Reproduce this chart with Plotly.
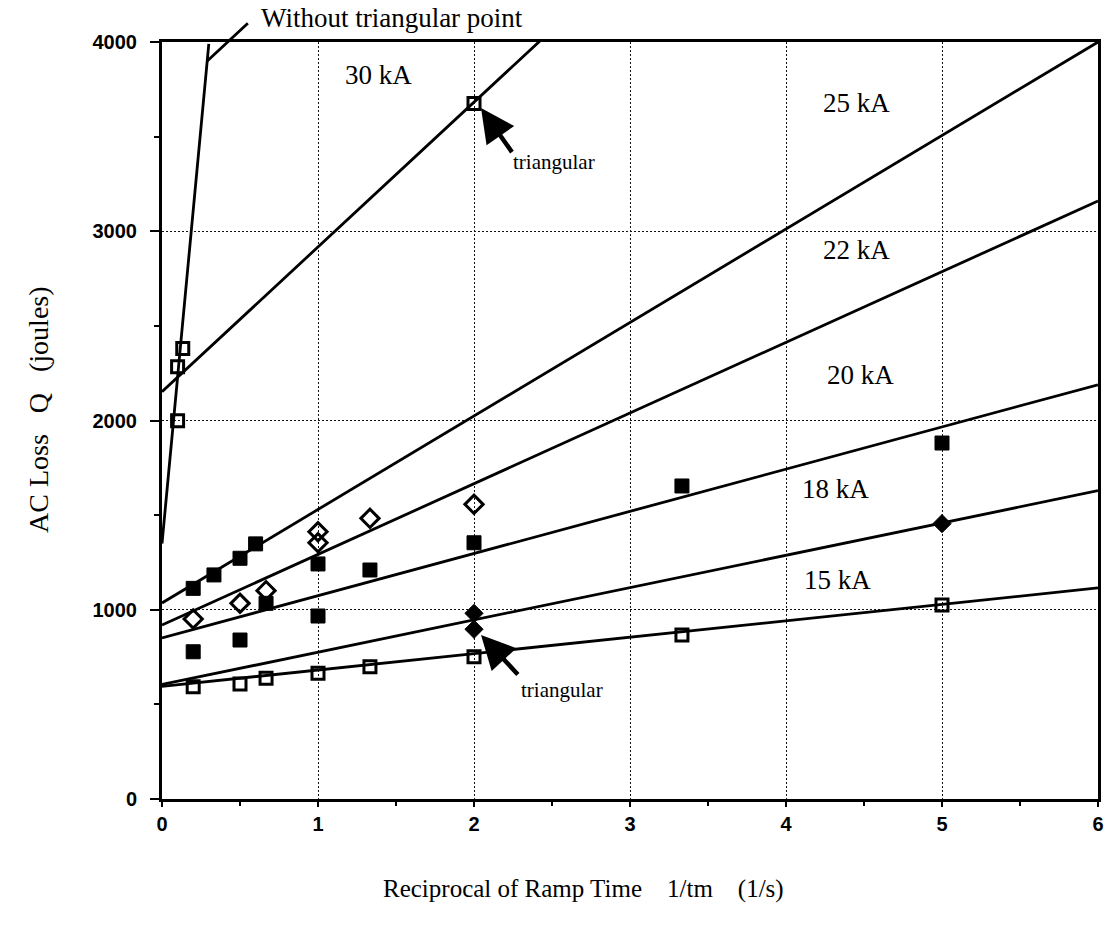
import numpy as np
import plotly.graph_objects as go

# Measured AC loss Q (joules) vs reciprocal ramp time 1/tm (1/s)
x_15kA = [0.2, 0.5, 0.667, 1.0, 1.333, 2.0, 3.333, 5.0]
q_15kA = [593, 608, 638, 664, 699, 752, 867, 1025]

x_18kA = [2.0, 2.0, 5.0]
q_18kA = [981, 897, 1455]

x_20kA = [0.2, 0.5, 0.667, 1.0, 1.0, 1.333, 2.0, 3.333, 5.0]
q_20kA = [778, 840, 1034, 1242, 967, 1210, 1354, 1654, 1881]

x_22kA = [0.2, 0.5, 0.667, 1.0, 1.0, 1.333, 2.0]
q_22kA = [951, 1034, 1101, 1412, 1354, 1483, 1557]

x_25kA = [0.2, 0.333, 0.5, 0.6]
q_25kA = [1113, 1184, 1272, 1348]

x_30kA = [0.1, 0.1, 0.133, 2.0]
q_30kA = [1999, 2284, 2381, 3675]

# Linear fits Q = a + b * (1/tm)
fit_labels = ["15 kA", "18 kA", "20 kA", "22 kA", "25 kA", "30 kA"]
fit_intercepts = [595, 605, 851, 919, 1036, 2152]
fit_slopes = [86.7, 170.7, 223, 373.5, 494, 765]

# 30 kA fit excluding the triangular-waveform point
fit30_notri_intercept = 1350
fit30_notri_slope = 8800

# Label anchor positions for each fit line (data units)
label_x = [4.33, 4.32, 4.48, 4.45, 4.45, 1.39]
label_y = [1155, 1640, 2240, 2900, 3680, 3826]

x_fit = np.linspace(0, 6, 121)
serif = "Liberation Serif, Times New Roman, serif"
sans = "Liberation Sans, Arial, sans-serif"

fig = go.Figure()

# fitted lines
for a, b in zip(fit_intercepts, fit_slopes):
    fig.add_trace(go.Scatter(x=x_fit, y=a + b * x_fit, mode="lines",
                             line=dict(color="black", width=2.8),
                             showlegend=False, hoverinfo="skip"))
x_steep = np.linspace(0, 0.3, 31)
fig.add_trace(go.Scatter(x=x_steep, y=fit30_notri_intercept + fit30_notri_slope * x_steep,
                         mode="lines", line=dict(color="black", width=2.8),
                         showlegend=False, hoverinfo="skip"))

open_sq = dict(symbol="square-open", size=12, color="black", line=dict(width=3, color="black"))
fill_sq = dict(symbol="square", size=14, color="black", line=dict(width=1, color="black"))
open_di = dict(symbol="diamond-open", size=14, color="black", line=dict(width=3, color="black"))
fill_di = dict(symbol="diamond", size=14, color="black", line=dict(width=1, color="black"))

for xs, ys, mk in [(x_15kA, q_15kA, open_sq), (x_18kA, q_18kA, fill_di),
                   (x_20kA, q_20kA, fill_sq), (x_22kA, q_22kA, open_di),
                   (x_25kA, q_25kA, fill_sq), (x_30kA, q_30kA, open_sq)]:
    fig.add_trace(go.Scatter(x=xs, y=ys, mode="markers", marker=mk,
                             showlegend=False, cliponaxis=False))

annotations = []
for t, lx, ly in zip(fit_labels, label_x, label_y):
    annotations.append(dict(x=lx, y=ly, text=t, showarrow=False,
                            font=dict(family=serif, size=27, color="black")))

# arrows marking the triangular-waveform points
for hx, hy, tx, ty in [(2.045, 3651, 2.25, 3410), (2.045, 867, 2.29, 650)]:
    annotations.append(dict(x=hx, y=hy, ax=tx, ay=ty, xref="x", yref="y",
                            axref="x", ayref="y", text="", showarrow=True,
                            arrowhead=2, arrowsize=1.5, arrowwidth=4.5,
                            arrowcolor="black"))
annotations.append(dict(x=2.24, y=3366, text="triangular", showarrow=False,
                        xanchor="left", font=dict(family=serif, size=21, color="black")))
annotations.append(dict(x=2.29, y=576, text="triangular", showarrow=False,
                        xanchor="left", font=dict(family=serif, size=21, color="black")))

# leader line to the "without triangular point" note
annotations.append(dict(x=0.29, y=3900, ax=0.56, ay=4106, xref="x", yref="y",
                        axref="x", ayref="y", text="", showarrow=True,
                        arrowhead=0, arrowwidth=2.8, arrowcolor="black"))
annotations.append(dict(x=0.62, y=1.032, xref="x", yref="paper",
                        text="Without triangular point", showarrow=False,
                        xanchor="left", yanchor="middle",
                        font=dict(family=serif, size=27, color="black")))

# axis titles
annotations.append(dict(x=-0.15, y=0.514, xref="paper", yref="paper",
                        text="AC Loss\u00a0\u00a0\u00a0Q\u00a0\u00a0\u00a0(joules)",
                        textangle=-90, showarrow=False,
                        font=dict(family=serif, size=28, color="black")))
annotations.append(dict(x=0.45, y=-0.14, xref="paper", yref="paper",
                        text="Reciprocal of Ramp Time\u00a0\u00a0\u00a0 1/tm\u00a0\u00a0\u00a0 (1/s)",
                        showarrow=False, font=dict(family=serif, size=25, color="black")))

fig.update_layout(
    width=1111, height=941,
    margin=dict(l=162, r=7, t=42, b=142),
    paper_bgcolor="white", plot_bgcolor="white",
    annotations=annotations,
    showlegend=False,
)
grid_style = dict(showgrid=True, gridcolor="#111", griddash="2px,2px", gridwidth=1.3)
fig.update_xaxes(range=[0, 6], tickvals=[0, 1, 2, 3, 4, 5, 6],
                 showline=True, linecolor="black", linewidth=3, mirror=True,
                 ticks="outside", ticklen=5, tickwidth=1.5, tickcolor="black",
                 minor=dict(dtick=0.5, ticks="outside", ticklen=4, tickwidth=1.5,
                            tickcolor="black", showgrid=False),
                 zeroline=False, **grid_style,
                 tickfont=dict(family=sans, size=20, color="black", weight="bold"))
fig.update_yaxes(range=[0, 4000], tickvals=[0, 1000, 2000, 3000, 4000],
                 showline=True, linecolor="black", linewidth=3, mirror=True,
                 ticks="outside", ticklen=9, tickwidth=1.5, tickcolor="black",
                 ticklabelstandoff=9,
                 minor=dict(dtick=500, ticks="outside", ticklen=5, tickwidth=1.5,
                            tickcolor="black", showgrid=False),
                 zeroline=False, **grid_style,
                 tickfont=dict(family=sans, size=20, color="black", weight="bold"))

fig.write_html("out.html")
